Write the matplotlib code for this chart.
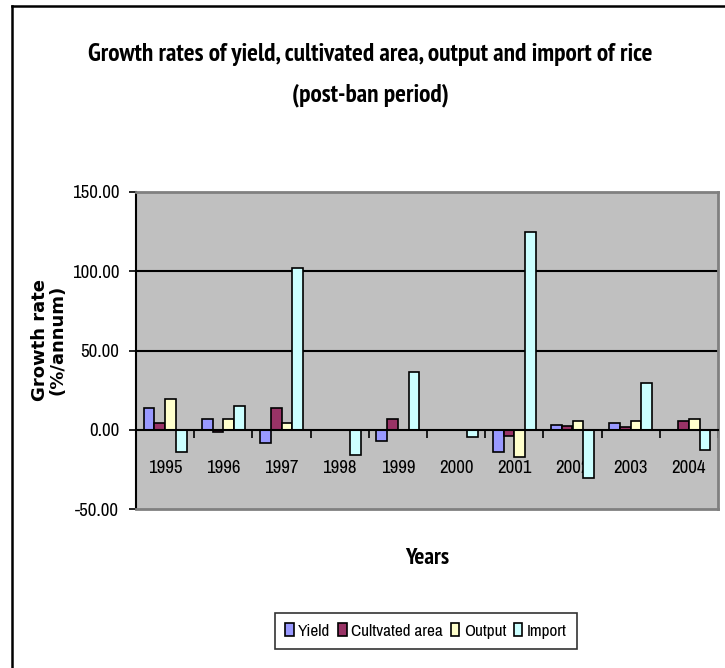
import matplotlib
matplotlib.use('Agg')
import matplotlib.pyplot as plt
import numpy as np
from matplotlib import font_manager
from matplotlib.lines import Line2D

years = ['1995', '1996', '1997', '1998', '1999', '2000', '2001', '2002', '2003', '2004']
series_names = ['Yield', 'Cultvated area', 'Output', 'Import']
yield_rate = [14.0, 7.0, -8.5, 0.0, -7.0, 0.0, -14.3, 2.7, 4.2, 0.0]
area_rate = [4.0, -1.7, 13.8, 0.0, 7.0, 0.0, -4.2, 2.5, 1.5, 5.5]
output_rate = [19.5, 7.0, 4.0, 0.0, 0.0, 0.0, -17.2, 5.5, 5.5, 7.0]
import_rate = [-14.3, 15.1, 102.0, -15.8, 36.2, -4.5, 124.6, -30.5, 29.4, -12.6]
yticks = [-50, 0, 50, 100, 150]

colors = ['#9999FF', '#993366', '#FFFFCC', '#CCFFFF']

# narrow sans like Arial Narrow, regular and bold looked up separately
candidates = ['Liberation Sans Narrow', 'Arial Narrow', 'Archivo Narrow', 'PT Sans Narrow',
              'Pragati Narrow', 'Roboto Condensed', 'Fira Sans Condensed', 'Open Sans Condensed',
              'Encode Sans Condensed', 'IBM Plex Sans Condensed', 'Sofia Sans Condensed']
regular = {f.name for f in font_manager.fontManager.ttflist if f.weight in (400, 'normal', 'regular')}
bolds = {f.name for f in font_manager.fontManager.ttflist if f.weight in (700, 'bold')}
narrow = next((c for c in candidates if c in regular), 'Liberation Sans')
narrow_b = next((c for c in candidates if c in bolds), 'Liberation Sans')

W, H = 725, 668
fig = plt.figure(figsize=(W / 100, H / 100), dpi=100)
renderer = fig.canvas.get_renderer()


def fit_size(s, width_px, size=12, **kw):
    # font size that makes text s about width_px wide
    t = fig.text(0, 0, s, fontsize=size, **kw)
    w = t.get_window_extent(renderer).width
    t.remove()
    return size * width_px / w


tick_fs = fit_size('1995', 34, family=narrow)
title_fs = fit_size('Growth rates of yield, cultivated area, output and import of rice', 564,
                    family=narrow_b, fontweight='bold')
years_fs = fit_size('Years', 44, family=narrow_b, fontweight='bold')
legend_fs = fit_size('Cultvated area', 92, family=narrow)
ylab_fs = fit_size('Growth rate', 122, family='DejaVu Sans', fontweight='bold')

left, right, top, bottom = 136, 718, 192, 509
ax = fig.add_axes([left / W, 1 - bottom / H, (right - left) / W, (bottom - top) / H])
ax.set_facecolor('#C0C0C0')

x = np.arange(len(years))
w = 0.185
for i, vals in enumerate([yield_rate, area_rate, output_rate, import_rate]):
    ax.bar(x + (i - 1.5) * w, vals, width=w, color=colors[i], edgecolor='black',
           linewidth=1.2, label=series_names[i], zorder=3)

ax.set_xlim(-0.5, len(years) - 0.5)
ax.set_ylim(-50, 150)

for g in [50, 100]:
    ax.axhline(g, color='black', linewidth=1.5, zorder=1)
ax.axhline(-50, color='#808080', linewidth=2, zorder=5, clip_on=False)

ax.spines['left'].set_color('black')
ax.spines['left'].set_linewidth(1.5)
ax.spines['bottom'].set_position(('data', 0))
ax.spines['bottom'].set_color('black')
ax.spines['bottom'].set_linewidth(1.5)
ax.spines['bottom'].set_zorder(4)
for s in ['top', 'right']:
    ax.spines[s].set_color('#808080')
    ax.spines[s].set_linewidth(2)

ax.set_yticks(yticks)
ax.set_yticklabels([f'{v:.2f}' for v in yticks], fontfamily=narrow, fontsize=tick_fs)
ax.tick_params(axis='y', direction='out', length=5, width=1.2, pad=7)

ax.set_xticks(x)
ax.set_xticklabels(years, fontfamily=narrow, fontsize=tick_fs)
ax.set_xticks(np.arange(-0.5, len(years)), minor=True)
ax.tick_params(axis='x', which='major', length=0, pad=22)
ax.tick_params(axis='x', which='minor', direction='out', length=6, width=1.2)

fig.text(49 / W, 1 - 340 / H, 'Growth rate\n(%/annum)', rotation=90, ha='center', va='center',
         multialignment='center', family='DejaVu Sans', fontweight='bold', fontsize=ylab_fs,
         linespacing=0.95)

fig.text((left + right) / 2 / W, 1 - 558 / H, 'Years', ha='center', va='center',
         family=narrow_b, fontweight='bold', fontsize=years_fs)

fig.text(370 / W, 1 - 55 / H, 'Growth rates of yield, cultivated area, output and import of rice',
         ha='center', va='center', family=narrow_b, fontweight='bold', fontsize=title_fs)
fig.text(370 / W, 1 - 95 / H, '(post-ban period)', ha='center', va='center',
         family=narrow_b, fontweight='bold', fontsize=title_fs)

leg = fig.legend(loc='center', bbox_to_anchor=(426 / W, 1 - 631 / H), ncol=4,
                 prop={'family': narrow, 'size': legend_fs}, frameon=True, fancybox=False,
                 handlelength=0.5, handleheight=0.7, handletextpad=0.25,
                 columnspacing=0.45, borderpad=0.6, borderaxespad=0)
leg.get_frame().set_edgecolor('black')
leg.get_frame().set_linewidth(1.2)

# chart frame (only left and top visible in the crop)
fig.add_artist(Line2D([12 / W, 12 / W], [0, 1 - 6 / H], color='black', linewidth=1.8,
                      transform=fig.transFigure))
fig.add_artist(Line2D([12 / W, 1], [1 - 6 / H, 1 - 6 / H], color='black', linewidth=1.8,
                      transform=fig.transFigure))

fig.savefig('out.png', dpi=100)
